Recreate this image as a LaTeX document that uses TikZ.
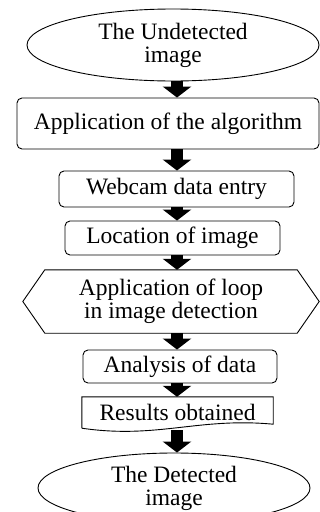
\documentclass[tikz,border=0pt]{standalone}
\usepackage{fontspec}
\setmainfont{Liberation Serif}
\usetikzlibrary{arrows.meta,shapes.geometric,calc}

\begin{document}
\begin{tikzpicture}[x=1pt,y=-1pt,
  every node/.style={font=\fontsize{23.5}{23}\selectfont, align=center, inner sep=0pt},
  outline/.style={draw=black, line width=0.9pt},
  roundbox/.style={outline, rounded corners=5pt, rectangle},
  oval/.style={outline, ellipse},
  blockarrow/.style={line width=12pt, -{Triangle[width=28pt,length=11pt]}},
]
\useasboundingbox (0,0) rectangle (320,512);

% vertical line along which the block arrows run
\coordinate (col) at (177,0);

% start and end ovals
\node[oval, minimum width=292pt, minimum height=72pt] (start) at (173,45) {The Undetected\\image};
\node[oval, minimum width=272pt, minimum height=70pt] (finish) at (174,488) {The Detected\\image};

% process boxes
\node[roundbox, minimum width=302pt, minimum height=51pt] (algo) at (168,123.5) {Application of the algorithm};
\node[roundbox, minimum width=235pt, minimum height=36pt] (webcam) at (176.5,189) {Webcam data entry};
\node[roundbox, minimum width=215pt, minimum height=34pt] (locate) at (172.5,238) {Location of image};

% preparation (hexagon)
\node[minimum width=296pt, minimum height=63pt] (loop) at (171,301.5) {Application of loop\\in image detection};
\draw[outline] ($(loop.west)$) -- ($(loop.north west)+(22,0)$) -- ($(loop.north east)+(-22,0)$)
  -- (loop.east) -- ($(loop.south east)+(-22,0)$) -- ($(loop.south west)+(22,0)$) -- cycle;

\node[roundbox, minimum width=194pt, minimum height=33pt] (analysis) at (180,366.5) {Analysis of data};

% document shape with wavy bottom
\node[minimum width=191pt, minimum height=30pt] (results) at (177.5,412) {Results obtained};
\draw[outline] ($(results.south west)+(0,1)$) -- (results.north west) -- (results.north east)
  -- ($(results.south east)+(0,-3)$)
  .. controls ($(results.south)+(20,-10)$) and ($(results.south)+(-20,12)$) .. ($(results.south west)+(0,1)$);

% block arrows between the steps
\draw[blockarrow] (start.south -| col) -- (algo.north -| col);
\draw[blockarrow] (algo.south -| col) -- (webcam.north -| col);
\draw[blockarrow] (webcam.south -| col) -- (locate.north -| col);
\draw[blockarrow] (locate.south -| col) -- (loop.north -| col);
\draw[blockarrow] (loop.south -| col) -- (analysis.north -| col);
\draw[blockarrow] (analysis.south -| col) -- (results.north -| col);
\draw[blockarrow] ($(results.south -| col)+(0,3)$) -- (finish.north -| col);
\end{tikzpicture}
\end{document}
